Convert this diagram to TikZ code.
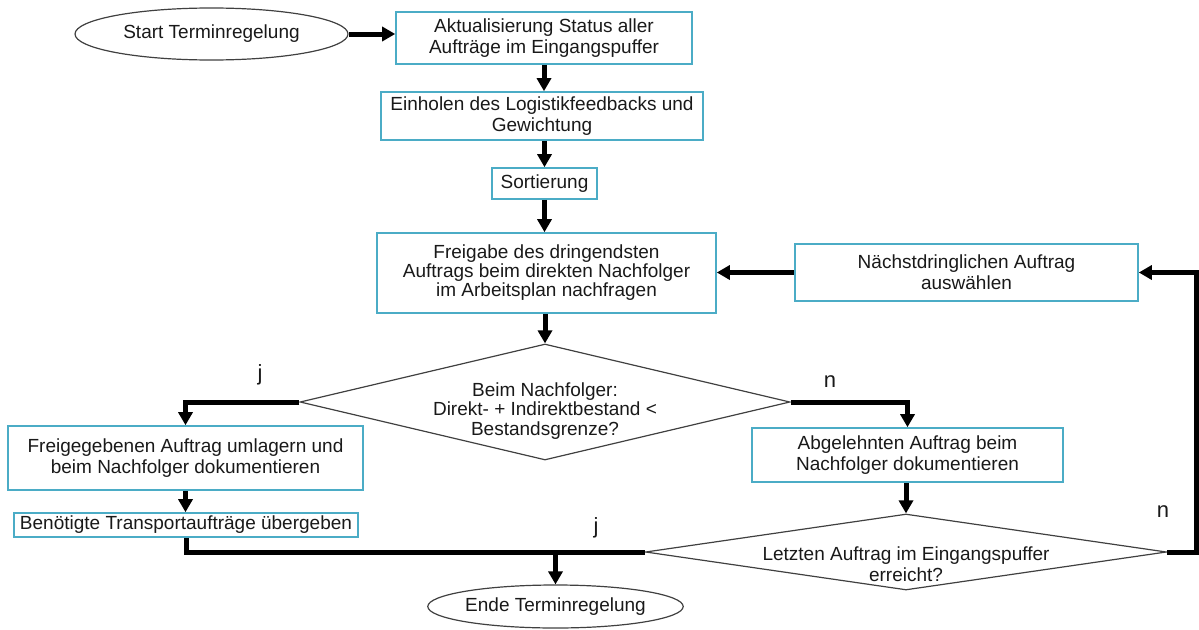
\documentclass[tikz,border=0pt]{standalone}
\usepackage{fontspec}
\setmainfont{Liberation Sans}
\usetikzlibrary{arrows.meta,shapes.geometric}
\definecolor{boxblue}{RGB}{75,172,198}
\definecolor{outline}{RGB}{64,64,64}
\definecolor{ink}{RGB}{25,25,25}
\begin{document}
\begin{tikzpicture}[x=1pt,y=-1pt,
  font=\fontsize{19}{21}\selectfont,
  procbox/.style={draw=boxblue, line width=1.6pt, inner sep=0pt, align=center, text=ink},
  terminal/.style={ellipse, draw=outline, line width=1.2pt, inner sep=0pt, text=ink},
  decision/.style={diamond, draw=outline, line width=1.2pt, inner sep=0pt},
  dectext/.style={align=center, inner sep=0pt, text=ink},
  flow/.style={line width=5pt, -{Triangle[length=13pt,width=14pt]}},
  flowline/.style={line width=5pt},
  branch/.style={font=\fontsize{22}{24}\selectfont, text=ink}
]
\useasboundingbox (0,0) rectangle (1199,629);

% terminals
\node[terminal, minimum width=273pt, minimum height=52pt] (start) at (211.5,34) {Start Terminregelung};
\node[terminal, minimum width=253pt, minimum height=43pt] (end) at (555.5,606.5) {Ende Terminregelung};

% process steps
\node[procbox, minimum width=296pt, minimum height=52pt] (b1) at (544,38)
  {Aktualisierung Status aller\\Aufträge im Eingangspuffer};
\node[procbox, minimum width=322pt, minimum height=48pt] (b2) at (542,116)
  {Einholen des Logistikfeedbacks und\\Gewichtung};
\node[procbox, minimum width=105pt, minimum height=31pt] (b3) at (544.5,183.5) {Sortierung};
\node[procbox, minimum width=339pt, minimum height=80pt, font=\fontsize{19}{19}\selectfont] (b4) at (546.5,273)
  {Freigabe des dringendsten\\Auftrags beim direkten Nachfolger\\im Arbeitsplan nachfragen};
\node[procbox, minimum width=343pt, minimum height=57pt] (b7) at (966.5,272.5)
  {Nächstdringlichen Auftrag\\auswählen};
\node[procbox, minimum width=355pt, minimum height=64pt] (b5) at (185.5,458)
  {Freigegebenen Auftrag umlagern und\\beim Nachfolger dokumentieren};
\node[procbox, minimum width=344pt, minimum height=24pt] (b6) at (186,525)
  {Benötigte Transportaufträge übergeben};
\node[procbox, minimum width=311pt, minimum height=54pt] (b8) at (907.5,455)
  {Abgelehnten Auftrag beim\\Nachfolger dokumentieren};

% decisions
\node[decision, minimum width=490pt, minimum height=116pt] (d1) at (545,402) {};
\node[dectext, font=\fontsize{19}{19.5}\selectfont] (d1t) at (545,411)
  {Beim Nachfolger:\\Direkt- + Indirektbestand <\\Bestandsgrenze?};
\node[decision, minimum width=521pt, minimum height=76pt] (d2) at (906,552) {};
\node[dectext] (d2t) at (906,564) {Letzten Auftrag im Eingangspuffer\\erreicht?};

% branch labels
\node[branch] (lj1) at (260,375) {j};
\node[branch] (ln1) at (830,382) {n};
\node[branch] (lj2) at (596,528) {j};
\node[branch] (ln2) at (1163,512) {n};

% connectors
\coordinate (loop) at (1196,552);
\draw[flow] (start.east) -- (b1.west |- start.east);
\draw[flow] (b1.south) -- (b1.south |- b2.north);
\draw[flow] (b3.north |- b2.south) -- (b3.north);
\draw[flow] (b3.south) -- (b3.south |- b4.north);
\draw[flow] (d1.north |- b4.south) -- (d1.north);
\draw[flow] (b7.west) -- (b7.west -| b4.east);
\draw[flow] (d1.west) -| (b5.north);
\draw[flow] (b5.south) -- (b5.south |- b6.north);
\draw[flowline] (b6.south) |- (d2.west);
\draw[flow] (end.north |- d2.west) -- (end.north);
\draw[flow] (d1.east) -| (b8.north);
\draw[flow] (d2.north |- b8.south) -- (d2.north);
\draw[flow] (d2.east) -- (loop) |- (b7.east);
\end{tikzpicture}
\end{document}
